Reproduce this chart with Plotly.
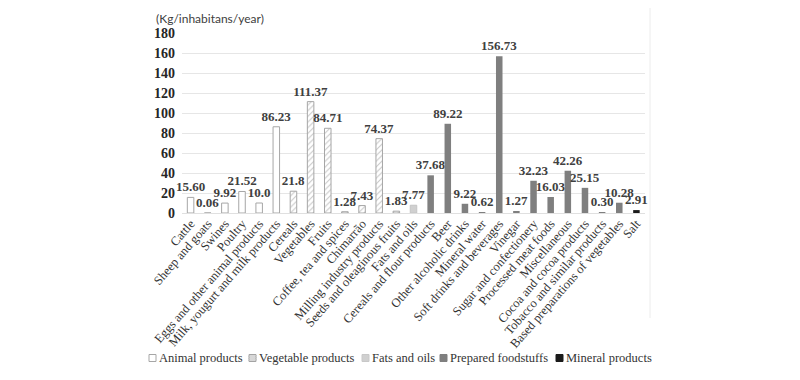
import plotly.graph_objects as go

categories = [
    "Cattle", "Sheep and goats", "Swines", "Poultry", "Eggs and other animal products",
    "Milk, yougurt and milk products", "Cereals", "Vegetables", "Fruits",
    "Coffee, tea and spices", "Chimarrão", "Milling industry products",
    "Seeds and oleaginous fruits", "Fats and oils", "Cereals and flour products",
    "Beer", "Other alcoholic drinks", "Mineral water", "Soft drinks and beverages",
    "Vinegar", "Sugar and confectionery", "Processed meat foods", "Miscellaneous",
    "Cocoa and cocoa products", "Tobacco and similar products",
    "Based preparations of vegetables", "Salt",
]
values = [15.60, 0.06, 9.92, 21.52, 10.0, 86.23, 21.8, 111.37, 84.71, 1.28, 7.43,
          74.37, 1.83, 7.77, 37.68, 89.22, 9.22, 0.62, 156.73, 1.27, 32.23, 16.03,
          42.26, 25.15, 0.30, 10.28, 2.91]
value_labels = ["15.60", "0.06", "9.92", "21.52", "10.0", "86.23", "21.8", "111.37",
                "84.71", "1.28", "7.43", "74.37", "1.83", "7.77", "37.68", "89.22",
                "9.22", "0.62", "156.73", "1.27", "32.23", "16.03", "42.26", "25.15",
                "0.30", "10.28", "2.91"]
groups = ["Animal products"] * 6 + ["Vegetable products"] * 7 + ["Fats and oils"] + \
         ["Prepared foodstuffs"] * 12 + ["Mineral products"]
group_names = ["Animal products", "Vegetable products", "Fats and oils",
               "Prepared foodstuffs", "Mineral products"]
y_ticks = [0, 20, 40, 60, 80, 100, 120, 140, 160, 180]

styles = {
    "Animal products": dict(color="white", line=dict(color="#a6a6a6", width=1)),
    "Vegetable products": dict(color="white", line=dict(color="#a6a6a6", width=1),
                               pattern=dict(shape="/", fgcolor="#8c8c8c", bgcolor="white",
                                            size=4, solidity=0.25)),
    "Fats and oils": dict(color="#d0d0d0", line=dict(color="#c4c4c4", width=1)),
    "Prepared foodstuffs": dict(color="#7f7f7f", line=dict(color="#7f7f7f", width=0)),
    "Mineral products": dict(color="#1a1a1a", line=dict(color="#1a1a1a", width=0)),
}

fig = go.Figure()
for g in group_names:
    idx = [i for i, gg in enumerate(groups) if gg == g]
    fig.add_trace(go.Bar(
        name=g,
        x=[categories[i] for i in idx],
        y=[values[i] for i in idx],
        text=[value_labels[i] for i in idx],
        textposition="outside",
        constraintext="none",
        cliponaxis=False,
        textfont=dict(family="Liberation Serif", size=13, color="#404040", weight="bold"),
        marker=styles[g],
        width=0.38,
        showlegend=False,
    ))

# page pixel targets (the page body has an 8px margin)
OFF = 8
W, H = 800 - OFF, 380 - OFF
L, R, T, B = 182, 645, 33, 213


def px(x):
    return (x - L) / (R - L)


def py(y):
    return (B - y) / (B - T)


shapes = [dict(type="line", xref="paper", yref="paper", x0=px(650), x1=px(650),
               y0=py(318), y1=py(OFF), line=dict(color="#ececec", width=1))]
annotations = [dict(text="(Kg/inhabitans/year)", xref="paper", yref="paper",
                    x=px(154), y=py(18), xanchor="left", yanchor="middle", showarrow=False,
                    font=dict(family="Lato", size=12, color="#404040"))]

# custom legend
legend_sq_x = [149, 249, 362, 440, 556]
ly = 358
sq = 7
fills = ["white", "white", "#d0d0d0", "#7f7f7f", "#1a1a1a"]
outl = ["#a6a6a6", "#a6a6a6", "#c8c8c8", "#7f7f7f", "#1a1a1a"]
for i, g in enumerate(group_names):
    x0 = legend_sq_x[i]
    shapes.append(dict(type="rect", xref="paper", yref="paper",
                       x0=px(x0), x1=px(x0 + sq), y0=py(ly + sq / 2), y1=py(ly - sq / 2),
                       fillcolor=fills[i], line=dict(color=outl[i], width=1)))
    if g == "Vegetable products":
        for k in range(-sq + 2, sq, 2):
            a0 = max(0, k)
            a1 = min(sq, sq + k)
            shapes.append(dict(type="line", xref="paper", yref="paper",
                               x0=px(x0 + a0), y0=py(ly + sq / 2 - (a0 - k)),
                               x1=px(x0 + a1), y1=py(ly + sq / 2 - (a1 - k)),
                               line=dict(color="#9a9a9a", width=0.8)))
    annotations.append(dict(text=g, xref="paper", yref="paper", x=px(x0 + sq + 1), y=py(ly),
                            xanchor="left", yanchor="middle", showarrow=False,
                            font=dict(family="Liberation Serif", size=12.5, color="#333333")))

fig.update_layout(
    width=W, height=H,
    margin=dict(l=L - OFF, r=800 - R, t=T - OFF, b=380 - B, autoexpand=False),
    plot_bgcolor="white", paper_bgcolor="white",
    barmode="overlay",
    showlegend=False,
    xaxis=dict(categoryorder="array", categoryarray=categories, tickangle=-49,
               tickfont=dict(family="Liberation Serif", size=12.5, color="#333333"),
               showgrid=False, showline=False, ticks="", automargin=False,
               range=[-0.5, len(categories) - 0.5]),
    yaxis=dict(range=[0, 180], tickvals=y_ticks, showgrid=True, gridcolor="#e6e6e6",
               zeroline=True, zerolinecolor="#e0e0e0", zerolinewidth=1, automargin=False,
               tickfont=dict(family="Liberation Serif", size=14, color="#262626",
                             weight="bold"),
               ticks="", ticklabelstandoff=6),
    annotations=annotations,
    shapes=shapes,
)

fig.write_html("out.html")
